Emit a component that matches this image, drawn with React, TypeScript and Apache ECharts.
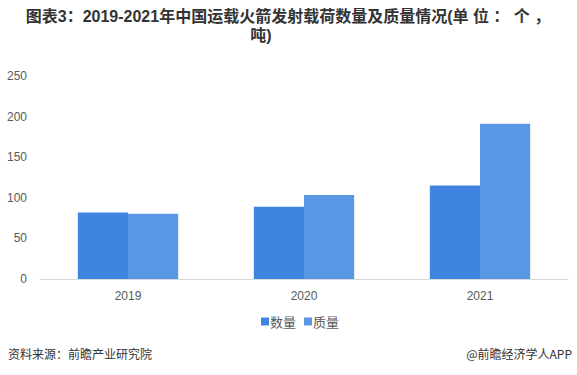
import React, { useEffect, useRef } from "react";
import * as echarts from "echarts";

const categories = ["2019", "2020", "2021"];
const countValues = [82, 89, 115];
const massValues = [80.4, 103.4, 191.2];
const seriesNames = ["数量", "质量"];
const yTicks = { min: 0, max: 250, interval: 50 };
const titleLines = ["图表3：2019-2021年中国运载火箭发射载荷数量及质量情况(单 位 ： 个 ，", "吨)"];

export default function App() {
  const ref = useRef<HTMLDivElement>(null);
  useEffect(() => {
    const chart = echarts.init(ref.current!, undefined, { renderer: "svg" });
    const titleStyle = {
      fontSize: 16,
      fontWeight: "bold",
      fill: "#333333",
      fontFamily: "Liberation Sans, Noto Sans CJK SC, sans-serif",
    };
    chart.setOption({
      animation: false,
      backgroundColor: "#ffffff",
      grid: { left: 40, right: 9, top: 76, bottom: 96 },
      legend: {
        data: seriesNames,
        bottom: 42,
        left: 256,
        itemWidth: 8,
        itemHeight: 8,
        itemGap: 8,
        icon: "rect",
        textStyle: { fontSize: 13, color: "#595959", padding: [0, 0, 0, -4], fontFamily: "Noto Sans CJK SC, sans-serif" },
      },
      xAxis: {
        type: "category",
        data: categories,
        axisLine: { lineStyle: { color: "#d9d9d9", width: 1 } },
        axisTick: { show: false },
        axisLabel: { color: "#595959", fontSize: 12, margin: 11, fontFamily: "Liberation Sans, sans-serif" },
      },
      yAxis: {
        type: "value",
        min: yTicks.min,
        max: yTicks.max,
        interval: yTicks.interval,
        splitLine: { show: false },
        axisLine: { show: false },
        axisTick: { show: false },
        axisLabel: { color: "#595959", fontSize: 12, margin: 13, fontFamily: "Liberation Sans, sans-serif" },
      },
      series: [
        {
          name: seriesNames[0],
          type: "bar",
          data: countValues,
          barGap: "0%",
          barCategoryGap: "43%",
          itemStyle: { color: "#3F84E1" },
        },
        {
          name: seriesNames[1],
          type: "bar",
          data: massValues,
          itemStyle: { color: "#5996E6" },
        },
      ],
      graphic: [
        {
          type: "text",
          x: 288,
          y: 8,
          style: { ...titleStyle, text: titleLines[0], textAlign: "center" },
        },
        {
          type: "text",
          x: 261,
          y: 27,
          style: { ...titleStyle, text: titleLines[1], textAlign: "center" },
        },
        {
          type: "text",
          left: 8,
          top: 347,
          style: { text: "资料来源：前瞻产业研究院", fontSize: 12, fill: "#333333", fontFamily: "Noto Sans CJK SC, sans-serif" },
        },
        {
          type: "text",
          right: 5,
          top: 347,
          style: { text: "@前瞻经济学人APP", fontSize: 12, fill: "#333333", fontFamily: "Noto Sans CJK SC, sans-serif" },
        },
      ],
    });
    return () => chart.dispose();
  }, []);
  return <div ref={ref} style={{ position: "fixed", left: 0, top: 0, width: 577, height: 375 }} />;
}
